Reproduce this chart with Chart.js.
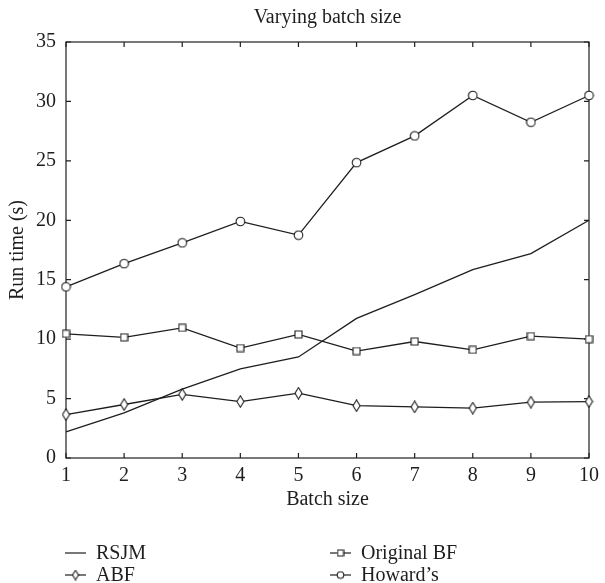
<!DOCTYPE html>
<html>
<head>
<meta charset="utf-8">
<script src="https://cdn.jsdelivr.net/npm/chart.js@4.4.1/dist/chart.umd.min.js"></script>
<style>
  html, body { margin: 0; padding: 0; background: #fff; }
  #wrap { width: 605px; height: 583px; }
</style>
</head>
<body>
<div id="wrap"><canvas id="myChart" width="605" height="583"></canvas></div>
<script>
// data
const batchSizes = [1, 2, 3, 4, 5, 6, 7, 8, 9, 10];
const rsjm = [2.2, 3.8, 5.8, 7.5, 8.5, 11.75, 13.75, 15.85, 17.2, 20.0];
const abf = [3.65, 4.5, 5.35, 4.75, 5.45, 4.4, 4.3, 4.2, 4.7, 4.75];
const originalBF = [10.45, 10.15, 10.95, 9.25, 10.4, 9.0, 9.8, 9.1, 10.25, 10.0];
const howards = [14.4, 16.35, 18.1, 19.9, 18.75, 24.85, 27.1, 30.5, 28.25, 30.5];
const seriesNames = ["RSJM", "ABF", "Original BF", "Howard\u2019s"];
const yTicks = [0, 5, 10, 15, 20, 25, 30, 35];

const INK = "#1e1e1e";
const FONT = "'Liberation Serif', 'DejaVu Serif', serif";

// small hollow markers drawn on their own canvases
function makeMarker(shape, s) {
  const c = document.createElement("canvas");
  let w = 11 * s, h = 11 * s;
  if (shape === "square") { w = 9 * s; h = 9 * s; }
  if (shape === "diamond") { w = 9 * s; h = 13 * s; }
  c.width = Math.round(w); c.height = Math.round(h);
  w = c.width; h = c.height;
  const g = c.getContext("2d");
  g.strokeStyle = INK;
  g.fillStyle = "#fff";
  g.lineWidth = 1.1;
  g.beginPath();
  if (shape === "circle") {
    g.arc(w / 2, h / 2, w / 2 - 1.2, 0, Math.PI * 2);
  } else if (shape === "square") {
    g.rect(1, 1, w - 2, h - 2);
  } else if (shape === "diamond") {
    g.moveTo(w / 2, 0.8);
    g.lineTo(w - 1, h / 2);
    g.lineTo(w / 2, h - 0.8);
    g.lineTo(1, h / 2);
    g.closePath();
  }
  g.fill();
  g.stroke();
  return c;
}

const markers = [false, makeMarker("diamond", 1), makeMarker("square", 1), makeMarker("circle", 1)];
const legendMarkers = [false, makeMarker("diamond", 0.85), makeMarker("square", 0.85), makeMarker("circle", 0.85)];
const values = [rsjm, abf, originalBF, howards];

// box round the plot with inward ticks on every side
const framePlugin = {
  id: "frame",
  beforeDatasetsDraw(chart) {
    const { ctx, chartArea: a, scales } = chart;
    ctx.save();
    ctx.strokeStyle = INK;
    ctx.lineWidth = 1.2;
    ctx.strokeRect(a.left, a.top, a.right - a.left, a.bottom - a.top);
    const t = 5;
    ctx.beginPath();
    batchSizes.forEach((v) => {
      const x = scales.x.getPixelForValue(v);
      ctx.moveTo(x, a.bottom); ctx.lineTo(x, a.bottom - t);
      ctx.moveTo(x, a.top); ctx.lineTo(x, a.top + t);
    });
    yTicks.forEach((v) => {
      const y = scales.y.getPixelForValue(v);
      ctx.moveTo(a.left, y); ctx.lineTo(a.left + t, y);
      ctx.moveTo(a.right, y); ctx.lineTo(a.right - t, y);
    });
    ctx.stroke();
    ctx.restore();
  },
};

// legend in two columns below the axis title
const legendPlugin = {
  id: "twoColLegend",
  afterDraw(chart) {
    const { ctx } = chart;
    const cols = [65, 330];
    const rows = [553, 575];
    const order = [[0, 0, 0], [1, 0, 1], [2, 1, 0], [3, 1, 1]];
    ctx.save();
    ctx.font = "20px " + FONT;
    ctx.fillStyle = INK;
    ctx.textBaseline = "middle";
    order.forEach(([i, c, r]) => {
      const x = cols[c], y = rows[r];
      ctx.strokeStyle = INK;
      ctx.lineWidth = 1.2;
      ctx.beginPath();
      ctx.moveTo(x, y); ctx.lineTo(x + 21, y);
      ctx.stroke();
      const m = legendMarkers[i];
      if (m) ctx.drawImage(m, x + 10.5 - m.width / 2, y - m.height / 2);
      ctx.fillText(seriesNames[i], x + 31, y + 1);
    });
    ctx.restore();
  },
};

new Chart(document.getElementById("myChart"), {
  type: "line",
  data: {
    datasets: seriesNames.map((name, i) => ({
      label: name,
      data: batchSizes.map((b, k) => ({ x: b, y: values[i][k] })),
      borderColor: INK,
      borderWidth: 1.3,
      tension: 0,
      pointStyle: markers[i],
      pointRadius: markers[i] ? 5 : 0,
      pointHoverRadius: markers[i] ? 5 : 0,
      clip: false,
    })),
  },
  options: {
    responsive: false,
    animation: false,
    layout: { padding: { left: 0, right: 12, top: 0, bottom: 65 } },
    plugins: {
      legend: { display: false },
      tooltip: { enabled: false },
      title: {
        display: true,
        text: "Varying batch size",
        fullSize: false,
        color: INK,
        font: { family: FONT, size: 20, weight: "normal" },
        padding: { top: 6, bottom: 12 },
      },
    },
    scales: {
      x: {
        type: "linear",
        min: 1,
        max: 10,
        afterFit: (s) => { s.height = 60; },
        afterBuildTicks: (s) => { s.ticks = batchSizes.map((v) => ({ value: v })); },
        grid: { display: false, drawTicks: false },
        border: { display: false },
        ticks: { color: INK, padding: 6, font: { family: FONT, size: 20 } },
        title: {
          display: true,
          text: "Batch size",
          color: INK,
          font: { family: FONT, size: 20 },
          padding: { top: 0, bottom: 6 },
        },
      },
      y: {
        min: 0,
        max: 35,
        afterFit: (s) => { s.width = 66; },
        afterBuildTicks: (s) => { s.ticks = yTicks.map((v) => ({ value: v })); },
        grid: { display: false, drawTicks: false },
        border: { display: false },
        ticks: { color: INK, padding: 10, font: { family: FONT, size: 20 } },
        title: {
          display: true,
          text: "Run time (s)",
          color: INK,
          font: { family: FONT, size: 20 },
          padding: { top: 6, bottom: 0 },
        },
      },
    },
  },
  plugins: [framePlugin, legendPlugin],
});
</script>
</body>
</html>
